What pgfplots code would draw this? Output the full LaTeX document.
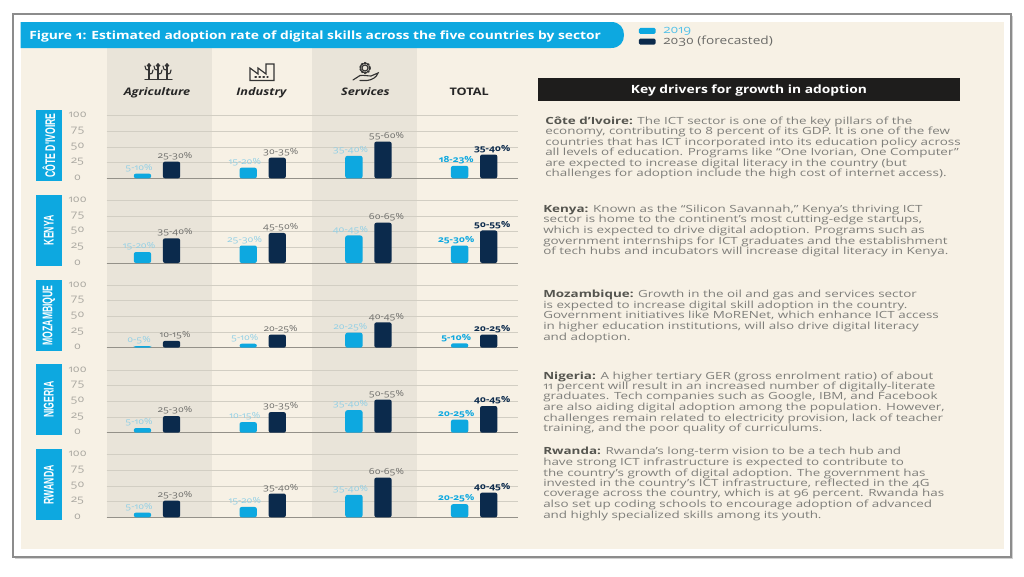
\documentclass[border=0pt]{standalone}
\usepackage{fontspec}
\usepackage{pgfplots}
\usepackage{pgfplotstable}
\pgfplotsset{compat=1.18}
\setmainfont[Numbers=OldStyle,FakeStretch=1.22]{Open Sans}
\newfontfamily\bodyfont[Numbers=OldStyle,FakeStretch=1.36]{Open Sans}
\newfontfamily\tagfont[FakeStretch=0.62]{Liberation Sans}
\definecolor{bg}{HTML}{F7F1E5}
\definecolor{band}{HTML}{E9E4D9}
\definecolor{lblue}{HTML}{0DA8E0}
\definecolor{navy}{HTML}{0B2A4C}
\definecolor{lbl}{HTML}{8FCFE6}
\definecolor{dlbl}{HTML}{6B6B68}
\definecolor{gridc}{HTML}{D2CEC3}
\definecolor{bodyc}{HTML}{7E7E7A}
\definecolor{bodyb}{HTML}{55554F}
\definecolor{tickc}{HTML}{A9A7A0}
\newcommand\totA[1]{{\bfseries\color{lblue}#1}}
\newcommand\totB[1]{{\bfseries\color{navy}#1}}
\pgfplotstableread{
x a b la lb
0 7.5 26.7 5-10 25-30
1 17 33 15-20 30-35
2 36 58.7 35-40 55-60
3 20 38 \totA{18-23} \totB{35-40}
}\tblCI
\pgfplotstableread{
x a b la lb
0 17.6 39.5 15-20 35-40
1 28 48 25-30 45-50
2 44 64.5 40-45 60-65
3 28 52 \totA{25-30} \totB{50-55}
}\tblKE
\pgfplotstableread{
x a b la lb
0 2.7 11 0-5 10-15
1 6.4 21 5-10 20-25
2 24 40.5 20-25 40-45
3 7 21 \totA{5-10} \totB{20-25}
}\tblMZ
\pgfplotstableread{
x a b la lb
0 7.5 26.7 5-10 25-30
1 17 33 10-15 30-35
2 36 53 35-40 50-55
3 21 42.7 \totA{20-25} \totB{40-45}
}\tblNG
\pgfplotstableread{
x a b la lb
0 7.5 26.7 5-10 25-30
1 16.5 38 15-20 35-40
2 36 63.5 35-40 60-65
3 21 39.5 \totA{20-25} \totB{40-45}
}\tblRW
\pgfplotsset{
  rowaxis/.style={
    anchor=south west, scale only axis, width=308.1pt, height=46.9pt,
    xmin=-0.476, xmax=3.41, ymin=0, ymax=100,
    axis lines=left, y axis line style={draw=none}, x axis line style={draw=black!40!bg,line width=.7pt,-},
    ytick={0,25,50,75,100}, ymajorgrids, major grid style={draw=gridc,line width=.5pt},
    ytick style={draw=none}, xtick style={draw=none}, xtick={0,1,2,3}, xticklabels={},
    /pgf/number format/assume math mode=true,
    yticklabel style={font=\fontsize{7.4}{8}\selectfont, text=tickc, text width=20pt, align=center, inner sep=0pt, xshift=-9.5pt, yshift=0.5pt},
    ybar, bar width=13pt,
    point meta=explicit symbolic,
  },
  firstaxis/.style={
    xticklabels={{\bfseries\itshape Agriculture},{\bfseries\itshape Industry\hspace*{2pt}},{\bfseries\itshape Services\hspace*{4.5pt}},{\bfseries TOTAL\hspace*{7.5pt}}},
    xticklabel style={font=\fontsize{7.8}{8}\selectfont, text=black!85, yshift=72.5pt, inner sep=0pt},
    legend cell align=left,
    legend style={at={(1.295,2.47)},anchor=north west,draw=none,fill=none,inner sep=0pt,row sep=-3pt,font=\fontsize{8.4}{9}\selectfont},
    legend image code/.code={\fill[#1,rounded corners=1pt] (0pt,-2.2pt) rectangle (12.5pt,2.2pt);},
    legend entries={\hspace*{4pt}\textcolor{lblue!70!white}{2019},\hspace*{4pt}\textcolor{dlbl}{2030 (forecasted)}},
  },
  lightbars/.style={draw=none, fill=lblue, rounded corners=1.6pt, bar shift=-10.9pt,
    nodes near coords={\pgfplotspointmeta\%},
    every node near coord/.style={font=\fontsize{6.3}{7}\selectfont, text=lbl, inner sep=1.2pt, xshift=-13.5pt, anchor=south}},
  darkbars/.style={draw=none, fill=navy, rounded corners=1.6pt, bar shift=10.9pt,
    nodes near coords={\pgfplotspointmeta\%},
    every node near coord/.style={font=\fontsize{6.3}{7}\selectfont, text=dlbl, inner sep=1.2pt, xshift=13.5pt, anchor=south}},
}
\newcommand\rowplot[3]{%
  \begin{axis}[rowaxis, at={(80.025pt,{-0.75*#1 pt})}, #3]
    \addplot[lightbars] table[x=x,y=a,meta=la]{#2};
    \addplot[darkbars] table[x=x,y=b,meta=lb]{#2};
  \end{axis}}
\newcommand\tagbox[3]{%
  \fill[lblue] (36,#1) rectangle (61.5,#2);
  \node[rotate=90,text=white,font=\tagfont\fontsize{10.5}{11}\selectfont\bfseries] at (48.8,{(#1+#2)/2}) {#3};}
\newcommand\tline[3]{\node[anchor=base west,inner sep=0pt,text=bodyc,font=\bodyfont\fontsize{7.4}{8}\selectfont] at (#1,#2+3.4) {#3};}
\newcommand\bb[1]{\textcolor{bodyb}{\bfseries #1}}
\begin{document}
\begin{tikzpicture}[x=0.75pt,y=-0.75pt]
\path (0,0) rectangle (1024,576);
% frame
\fill[black!18] (15,16) rectangle (1013,559);
\draw[draw=black!45,line width=1pt,fill=white] (13,14) rectangle (1011,557);
\fill[bg] (20.5,21.5) rectangle (1004,549);
% bands
\fill[band] (106.7,48) rectangle (212,518);
\fill[band] (312,48) rectangle (417.3,518);
% title
\fill[lblue] (20.5,22) -- (611,22) .. controls (620,22) and (624,28) .. (624,35) .. controls (624,42) and (620,48) .. (611,48) -- (20.5,48) -- cycle;
\node[anchor=west,inner sep=0pt,text=white,font=\fontsize{8.5}{9}\selectfont\bfseries] at (29,36.5) {Figure 1: Estimated adoption rate of digital skills across the five countries by sector};
% icons
\begin{scope}[draw=black!80,line width=.85pt,line cap=round]
 % agriculture
 \draw (145,79.5) -- (172,79.5);
 \foreach \xx in {149,158,167}{\draw (\xx,64) -- (\xx,79.5);
   \draw (\xx,70) .. controls (\xx-3,70) .. (\xx-4,66);
   \draw (\xx,74) .. controls (\xx+3,74) .. (\xx+4,70);
   \draw (\xx,65.5) circle (1.6);}
 % industry
 \draw (250,80.5) -- (250,68) -- (258,74) -- (258,68) -- (266,74) -- (266,64) -- (274,64) -- (274,80.5) -- cycle;
 \draw[dotted,line width=1pt] (255,77) -- (268,77);
 % services
 \draw (365,68) circle (3);
 \draw[dash pattern=on 1.2pt off 1.2pt,line width=1.4pt] (365,68) circle (5);
 \draw (353,80) -- (360,75.5) .. controls (364,75) and (368,76) .. (371,76) -- (378,73) .. controls (377,77) and (372,80) .. (367,80.5) -- (360,80.5);
\end{scope}
% key drivers bar
\fill[black!88!bg] (538,78.3) rectangle (960,101.3);
\node[text=white,inner sep=0pt,font=\fontsize{8.5}{9}\selectfont\bfseries] at (749,91) {Key drivers for growth in adoption};
% country tags
\tagbox{110}{181}{CÔTE D'IVOIRE}
\tagbox{194.7}{266}{KENYA}
\tagbox{280}{350.7}{MOZAMBIQUE}
\tagbox{364}{435.3}{NIGERIA}
\tagbox{449.3}{520.3}{RWANDA}
% charts
\rowplot{178.3}{\tblCI}{firstaxis}
\rowplot{263}{\tblKE}{}
\rowplot{347.7}{\tblMZ}{}
\rowplot{432.7}{\tblNG}{}
\rowplot{517.3}{\tblRW}{}
% text
\tline{545}{120.7}{\bb{Côte d’Ivoire:} The ICT sector is one of the key pillars of the}
\tline{545}{130.7}{economy, contributing to 8 percent of its GDP. It is one of the few}
\tline{545}{141.7}{countries that has ICT incorporated into its education policy across}
\tline{545}{152.3}{all levels of education. Programs like “One Ivorian, One Computer”}
\tline{545}{162.7}{are expected to increase digital literacy in the country (but}
\tline{545}{173.3}{challenges for adoption include the high cost of internet access).}
\tline{543}{208.7}{\bb{Kenya:} Known as the “Silicon Savannah,” Kenya’s thriving ICT}
\tline{543}{219}{sector is home to the continent’s most cutting-edge startups,}
\tline{543}{230}{which is expected to drive digital adoption. Programs such as}
\tline{543}{240.7}{government internships for ICT graduates and the establishment}
\tline{543}{251}{of tech hubs and incubators will increase digital literacy in Kenya.}
\tline{543}{294.3}{\bb{Mozambique:} Growth in the oil and gas and services sector}
\tline{543}{305}{is expected to increase digital skill adoption in the country.}
\tline{543}{315.3}{Government initiatives like MoRENet, which enhance ICT access}
\tline{543}{326.3}{in higher education institutions, will also drive digital literacy}
\tline{543}{336.7}{and adoption.}
\tline{543}{375.7}{\bb{Nigeria:} A higher tertiary GER (gross enrolment ratio) of about}
\tline{543}{386}{11 percent will result in an increased number of digitally-literate}
\tline{543}{396.3}{graduates. Tech companies such as Google, IBM, and Facebook}
\tline{543}{407.3}{are also aiding digital adoption among the population. However,}
\tline{543}{417.7}{challenges remain related to electricity provision, lack of teacher}
\tline{543}{428}{training, and the poor quality of curriculums.}
\tline{543}{451}{\bb{Rwanda:} Rwanda’s long-term vision to be a tech hub and}
\tline{543}{461.7}{have strong ICT infrastructure is expected to contribute to}
\tline{543}{472.7}{the country’s growth of digital adoption. The government has}
\tline{543}{483}{invested in the country’s ICT infrastructure, reflected in the 4G}
\tline{543}{493.3}{coverage across the country, which is at 96 percent. Rwanda has}
\tline{543}{504.3}{also set up coding schools to encourage adoption of advanced}
\tline{543}{515}{and highly specialized skills among its youth.}
\end{tikzpicture}
\end{document}
